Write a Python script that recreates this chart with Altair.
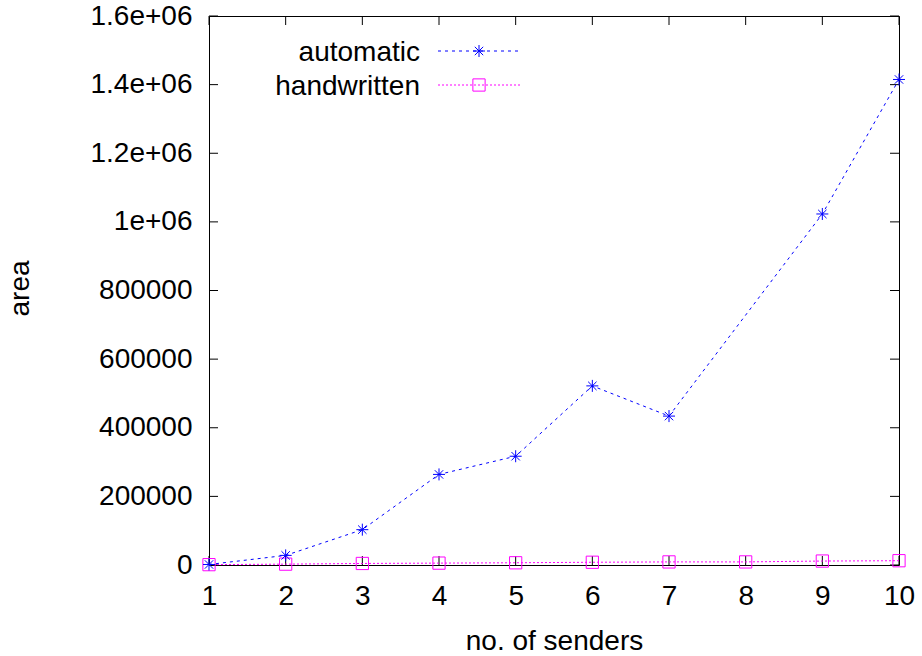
import altair as alt
import pandas as pd

# ---- data ----
senders_auto = [1, 2, 3, 4, 5, 6, 7, 9, 10]
area_auto = [1500, 28000, 103000, 264000, 317000, 522000, 434000, 1023000, 1415000]
senders_hand = [1, 2, 3, 4, 5, 6, 7, 8, 9, 10]
area_hand = [1000, 2500, 4500, 5500, 6500, 8000, 9000, 9000, 11500, 12500]
series_names = ["automatic", "handwritten"]
x_ticks = [1, 2, 3, 4, 5, 6, 7, 8, 9, 10]
y_ticks = [0, 200000, 400000, 600000, 800000, 1000000, 1200000, 1400000, 1600000]
y_tick_labels = ["0", "200000", "400000", "600000", "800000",
                 "1e+06", "1.2e+06", "1.4e+06", "1.6e+06"]
x_title = "no. of senders"
y_title = "area"

# ---- styling ----
W, H = 690, 549
FONT = "Liberation Sans"
FS = 28
BLUE = "#0000ff"
MAGENTA = "#ff00ff"
STAR = "M-1,0L1,0M0,-1L0,1M-0.7,-0.7L0.7,0.7M-0.7,0.7L0.7,-0.7"
TICK = 9

label_expr = "''"
for v, l in reversed(list(zip(y_ticks, y_tick_labels))):
    label_expr = f"datum.value == {v} ? '{l}' : ({label_expr})"

xscale = alt.Scale(domain=[1, 10], nice=False, zero=False)
yscale = alt.Scale(domain=[0, 1600000], nice=False, zero=False)

xaxis = alt.Axis(values=x_ticks, format="d", title=x_title, titleY=84,
                 titleBaseline="alphabetic", labelPadding=31, labelBaseline="middle",
                 labelFlush=False, labelOverlap=False, ticks=False, tickSize=0,
                 domain=False, grid=False)
yaxis = alt.Axis(values=y_ticks, labelExpr=label_expr, title=y_title, titleAngle=270,
                 titleX=-189, titleY=272, titleAlign="center", titleBaseline="middle",
                 labelAlign="right", labelBaseline="middle", labelPadding=17,
                 labelFlush=False, labelOverlap=False, ticks=False, tickSize=0,
                 domain=False, grid=False)


def X():
    return alt.X("senders:Q", scale=xscale, axis=xaxis)


def Y():
    return alt.Y("area:Q", scale=yscale, axis=yaxis)


auto_df = pd.DataFrame({"senders": senders_auto, "area": area_auto})
hand_df = pd.DataFrame({"senders": senders_hand, "area": area_hand})
xt_df = pd.DataFrame({"senders": x_ticks})
yt_df = pd.DataFrame({"area": y_ticks})

layers = []
# inward ticks on all four sides
layers.append(alt.Chart(xt_df).mark_rule(color="black", strokeWidth=1).encode(
    x=X(), y=alt.value(H), y2=alt.value(H - TICK)))
layers.append(alt.Chart(xt_df).mark_rule(color="black", strokeWidth=1).encode(
    x=X(), y=alt.value(0), y2=alt.value(TICK)))
layers.append(alt.Chart(yt_df).mark_rule(color="black", strokeWidth=1).encode(
    y=Y(), x=alt.value(0), x2=alt.value(TICK)))
layers.append(alt.Chart(yt_df).mark_rule(color="black", strokeWidth=1).encode(
    y=Y(), x=alt.value(W), x2=alt.value(W - TICK)))

# series
layers.append(alt.Chart(hand_df).mark_line(color=MAGENTA, strokeWidth=1, strokeDash=[2, 2]).encode(x=X(), y=Y()))
layers.append(alt.Chart(hand_df).mark_point(shape="square", size=150, color=MAGENTA, filled=False,
                                            strokeWidth=1, opacity=1).encode(x=X(), y=Y()))
layers.append(alt.Chart(auto_df).mark_line(color=BLUE, strokeWidth=1, strokeDash=[3, 4]).encode(x=X(), y=Y()))
layers.append(alt.Chart(auto_df).mark_point(shape=STAR, size=144, color=BLUE, filled=False,
                                            strokeWidth=1, opacity=1).encode(x=X(), y=Y()))

# legend (gnuplot style: label right-aligned, then sample)
styles = [(BLUE, [3, 4], STAR, 144), (MAGENTA, [2, 2], "square", 150)]
for i, name in enumerate(series_names):
    color, dash, shape, size = styles[i]
    ldf = pd.DataFrame({"name": [name]})
    ry = 35 + 34 * i
    layers.append(alt.Chart(ldf).mark_text(align="right", baseline="alphabetic", font=FONT,
                                           fontSize=FS, color="black").encode(
        text="name:N", x=alt.value(211), y=alt.value(ry + 10)))
    layers.append(alt.Chart(ldf).mark_rule(color=color, strokeWidth=1, strokeDash=dash).encode(
        x=alt.value(229), x2=alt.value(312), y=alt.value(ry)))
    layers.append(alt.Chart(ldf).mark_point(shape=shape, size=size, color=color, filled=False,
                                            strokeWidth=1, opacity=1).encode(
        x=alt.value(270), y=alt.value(ry)))

chart = alt.layer(*layers).properties(
    width=W, height=H,
    padding={"left": 209, "top": 16, "right": 23, "bottom": 91},
    autosize=alt.AutoSizeParams(type="none"),
).configure_view(stroke="black", strokeWidth=1).configure_axis(
    labelFont=FONT, labelFontSize=FS, labelColor="black",
    titleFont=FONT, titleFontSize=FS, titleColor="black", titleFontWeight="normal",
)

chart.save("out.html", embed_options={"renderer": "svg", "actions": False})
